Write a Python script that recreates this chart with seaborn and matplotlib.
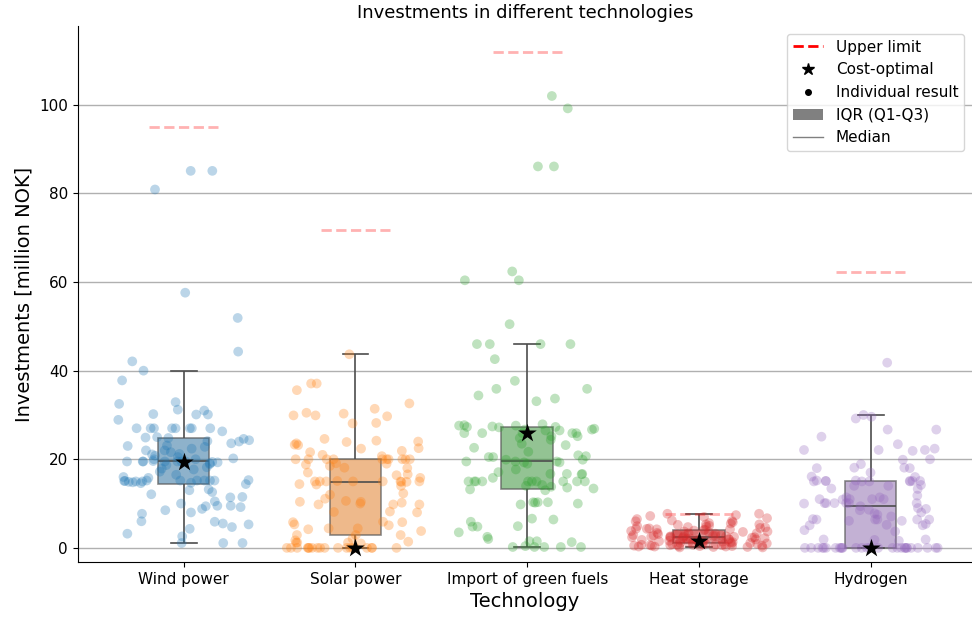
import matplotlib
matplotlib.use("Agg")
import matplotlib.pyplot as plt
import matplotlib.colors as mcolors
from matplotlib.lines import Line2D
from matplotlib.patches import Patch
import numpy as np
import pandas as pd
import seaborn as sns

technologies = ["Wind power", "Solar power", "Import of green fuels", "Heat storage", "Hydrogen"]
colors = ["#1f77b4", "#ff7f0e", "#2ca02c", "#d62728", "#9467bd"]

# individual results [million NOK]
wind = [85.1, 85.1, 80.9, 57.6, 51.9, 44.3, 42.1, 40.0, 37.8, 32.9, 32.5, 31.2, 31.0, 30.2,
        30.1, 30.1, 28.9, 27.0, 27.0, 27.0, 27.0, 27.0, 27.0, 27.0, 27.0, 26.3, 25.0, 24.9,
        24.8, 24.6, 24.3, 24.1, 24.0, 23.6, 23.1, 23.0, 22.8, 22.4, 22.0, 22.0, 21.6, 21.2,
        21.1, 20.8, 20.5, 20.2, 20.0, 20.0, 19.6, 19.5, 19.5, 19.5, 19.5, 19.5, 19.5, 19.5,
        19.4, 19.3, 19.1, 18.9, 18.7, 18.2, 17.9, 17.7, 17.2, 16.5, 16.0, 15.8, 15.3, 15.2,
        15.2, 15.2, 15.2, 15.2, 15.2, 15.1, 15.1, 15.0, 15.0, 14.9, 14.8, 14.7, 14.6,
        14.4, 13.2, 13.0, 12.6, 12.1, 11.5, 11.4, 10.5, 10.0, 9.5, 9.5, 9.4, 9.2, 8.8, 8.5,
        8.0, 7.7, 6.0, 5.9, 5.5, 5.3, 4.7, 4.3, 3.2, 2.6, 1.1, 1.1, 1.1]
solar = [43.7, 37.1, 37.1, 35.6, 32.6, 31.4, 30.5, 30.3, 29.9, 29.9, 29.7, 28.2, 28.1, 24.6,
         24.2, 24.0, 23.9, 23.6, 23.3, 23.2, 22.5, 22.4, 21.9, 21.6, 21.0, 20.7,
         20.0, 20.0, 20.0, 20.0, 20.0, 20.0, 20.0, 20.0, 20.0, 20.0,
         19.1, 19.0, 18.8, 18.5, 18.1, 18.0, 17.0, 16.6, 16.4, 15.8, 15.1, 15.0, 15.0, 15.0,
         15.0, 15.0, 15.0, 15.0,
         14.9, 14.9, 14.4, 14.3, 14.0, 12.3, 12.0, 11.1, 10.6, 10.4, 10.4, 10.2, 10.0, 9.8,
         9.8, 9.8, 8.2, 8.1, 8.0, 5.9, 5.8, 5.8, 5.3, 5.1, 4.4, 4.4, 4.2, 3.8, 2.9, 2.9, 2.9,
         2.1, 1.7, 1.4, 1.2, 1.2, 1.2, 1.0,
         0.0, 0.0, 0.0, 0.0, 0.0, 0.0, 0.0, 0.0, 0.0, 0.0, 0.0, 0.0, 0.0, 0.0, 0.0, 0.0,
         0.0, 0.0, 0.0]
green_fuels = [102.0, 99.2, 86.1, 86.1, 62.4, 60.4, 60.4, 50.5, 46.0, 46.0, 46.0, 46.0, 42.6,
               37.7, 35.9, 35.9, 34.4, 33.7, 33.1,
               27.9, 27.7, 27.6, 27.6, 27.4, 27.3, 27.3, 27.2, 26.9, 26.7, 26.7, 26.5,
               26.5, 25.9, 25.9, 25.9, 25.9, 25.9, 25.2, 25.2, 24.8, 24.4, 23.5, 23.2, 22.6,
               21.7, 20.9, 20.7, 20.5, 20.5, 19.9, 19.9, 19.5, 19.5, 19.5, 19.3, 19.3, 19.0,
               17.7, 17.1, 16.7, 16.7, 16.7, 16.6, 15.8, 15.0, 15.0, 15.0, 15.0, 15.0, 15.0,
               15.0, 15.0, 15.0, 15.0,
               14.2, 14.0, 13.8, 13.6, 13.4, 13.2, 13.0, 10.3, 10.3, 10.3, 10.2, 10.0, 9.8,
               6.6, 6.4, 5.9, 4.9, 4.8, 4.8, 3.5, 2.5, 2.0, 1.5, 1.5, 1.3, 0.4, 0.2, 0.2,
               0.2, 0.2, 0.2]
heat_storage = [7.7, 7.7, 7.4, 7.2, 7.0, 6.7, 6.5, 6.2, 6.1, 6.0, 5.8, 5.6, 5.5, 5.3, 5.3,
                5.2, 5.0, 4.9, 4.8, 4.7, 4.6, 4.5, 4.4, 4.3, 4.3, 4.2, 4.2,
                4.1, 4.0, 3.9, 3.8, 3.7, 3.7, 3.6, 3.5, 3.4, 3.3, 3.3, 3.2, 3.1, 3.0, 3.0,
                2.9, 2.9, 2.8, 2.8, 2.7, 2.7, 2.6, 2.6, 2.5, 2.5, 2.5, 2.5,
                2.4, 2.4, 2.3, 2.3, 2.2, 2.2, 2.1, 2.0, 2.0, 1.9, 1.9, 1.8, 1.8, 1.7, 1.7,
                1.6, 1.6, 1.5, 1.5, 1.4, 1.4, 1.3, 1.3, 1.2, 1.2, 1.1, 1.1,
                1.0, 1.0, 0.9, 0.9, 0.9, 0.8, 0.8, 0.8, 0.7, 0.7, 0.7, 0.6, 0.6, 0.6, 0.5,
                0.5, 0.5, 0.4, 0.4, 0.4, 0.3, 0.3, 0.3, 0.2, 0.2, 0.1, 0.1]
hydrogen = [41.8, 30.0, 29.6, 29.2, 26.7, 26.7, 25.1, 23.4, 22.4, 22.1, 22.1, 22.1, 21.9,
            20.0, 19.9, 18.9, 18.1, 18.1, 18.0, 18.0, 17.0, 16.1, 16.0,
            15.2, 15.2, 15.1, 15.1, 15.1, 15.1, 15.1, 15.0, 15.0, 15.0, 15.0,
            14.2, 14.0, 14.0, 13.4, 13.3, 11.8, 11.4, 11.4, 11.0, 11.0, 11.0, 11.0, 10.9,
            10.1, 10.1, 10.1, 10.1, 10.1, 10.1, 10.0, 9.4,
            9.0, 8.8, 8.6, 8.5, 8.0, 7.8, 7.5, 7.1, 6.5, 6.4, 6.4, 6.4, 6.4, 6.4, 6.1, 6.1,
            5.4, 5.2, 5.1, 5.1, 4.0, 3.7, 1.9, 1.9, 1.8, 1.6,
            0.0, 0.0, 0.0, 0.0, 0.0, 0.0, 0.0, 0.0, 0.0, 0.0, 0.0, 0.0, 0.0, 0.0, 0.0, 0.0,
            0.0, 0.0, 0.0, 0.0, 0.0, 0.0, 0.0, 0.0, 0.0, 0.0, 0.0, 0.0]

cost_optimal = [19.3, 0.0, 26.0, 1.5, 0.0]
upper_limit = [95.0, 71.8, 112.0, 7.7, 62.2]

results = [wind, solar, green_fuels, heat_storage, hydrogen]
df = pd.concat([pd.DataFrame({"Technology": t, "Investment": v})
                for t, v in zip(technologies, results)], ignore_index=True)
df_opt = pd.DataFrame({"Technology": technologies, "Investment": cost_optimal})

np.random.seed(3)
fig = plt.figure(figsize=(9.72, 6.19), dpi=100)
ax = fig.add_axes([0.080, 0.092, 0.92, 0.866])

pal = dict(zip(technologies, colors))

sns.stripplot(data=df, x="Technology", y="Investment", hue="Technology", order=technologies,
              palette=pal, jitter=0.4, size=7, alpha=0.3, linewidth=0, legend=False, ax=ax)

sns.boxplot(data=df, x="Technology", y="Investment", hue="Technology", order=technologies,
            palette=pal, width=0.3, showfliers=False, linecolor="0.3", linewidth=1.2,
            legend=False, ax=ax)
for p in ax.patches:
    p.set_facecolor(mcolors.to_rgba(p.get_facecolor(), 0.55))
    p.set_edgecolor((0.35, 0.35, 0.35, 0.7))

for i, lim in enumerate(upper_limit):
    ax.hlines(lim, i - 0.2, i + 0.2, colors="red", linestyles="--", linewidth=2, alpha=0.3,
              zorder=3)

sns.stripplot(data=df_opt, x="Technology", y="Investment", order=technologies, jitter=False,
              marker="*", size=14, color="black", linewidth=0, ax=ax, zorder=5)

ax.set_xlim(-0.617, 4.59)
ax.set_ylim(-3.2, 117.8)
ax.set_yticks([0, 20, 40, 60, 80, 100])
ax.yaxis.grid(True, color="#b0b0b0", linewidth=1)
ax.set_axisbelow(True)
sns.despine(ax=ax)

ax.set_title("Investments in different technologies", fontsize=13)
ax.set_xlabel("Technology", fontsize=14)
ax.set_ylabel("Investments [million NOK]", fontsize=14)
ax.tick_params(axis="both", labelsize=11)

handles = [
    Line2D([0], [0], color="red", linestyle="--", linewidth=2),
    Line2D([0], [0], marker="*", color="black", linestyle="", markersize=9),
    Line2D([0], [0], marker="o", color="black", linestyle="", markersize=4),
    Patch(facecolor="grey"),
    Line2D([0], [0], color="grey", linewidth=1),
]
labels = ["Upper limit", "Cost-optimal", "Individual result", "IQR (Q1-Q3)", "Median"]
ax.legend(handles, labels, loc="upper right", fontsize=11)

fig.savefig("out.png", dpi=100)
